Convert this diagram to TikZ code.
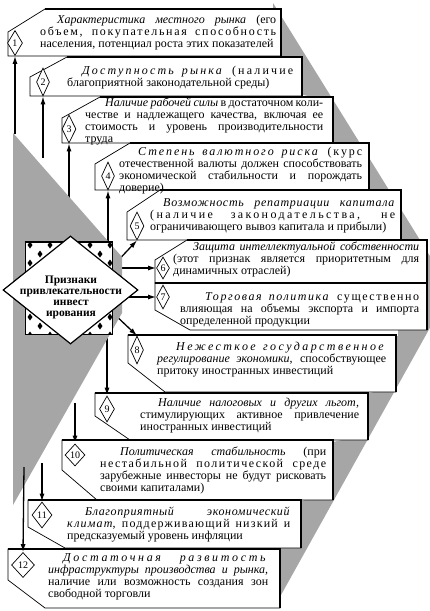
\documentclass[tikz,border=0pt]{standalone}
\usepackage{fontspec}
\setmainfont{Liberation Serif}
\usetikzlibrary{shapes.geometric,arrows.meta}
\pgfdeclarelayer{lines}
\pgfdeclarelayer{shade}
\pgfsetlayers{lines,shade,main}
\definecolor{shadow}{gray}{0.65}
\newcommand{\spread}[2][15]{{\addfontfeature{LetterSpace=#1}#2}}
\tikzset{
  boxline/.style={draw, fill=white, line width=0.7pt},
  heavy/.style={line width=1.6pt},
  num/.style={draw, diamond, fill=white, inner sep=0pt, line width=0.7pt, font=\fontsize{10}{10}\selectfont},
  txt/.style={anchor=base west, inner sep=0pt, align=justify, font=\fontsize{12}{12.3}\selectfont},
  arr/.style={line width=1.3pt, -{Latex[length=8pt,width=5pt]}}
}
\begin{document}
\begin{tikzpicture}[x=1pt,y=-1pt]
  \useasboundingbox (0,0) rectangle (429,611);

  % boxes
  \draw[boxline] (45,9) -- (281,9) -- (281,56) -- (8,56) -- (8,32) -- cycle;
  \draw[heavy] (45,9) -- (281,9) -- (281,56);
  \draw[boxline] (67,57) -- (302,57) -- (302,96) -- (30,96) -- (30,77) -- cycle;
  \draw[heavy] (67,57) -- (302,57) -- (302,96);
  \draw[boxline] (100,97) -- (333,97) -- (333,143) -- (62,143) -- (62,118) -- cycle;
  \draw[heavy] (100,97) -- (333,97) -- (333,143);
  \draw[boxline] (130,143) -- (369,143) -- (369,190) -- (95,190) -- (95,164) -- cycle;
  \draw[heavy] (130,143) -- (369,143) -- (369,190);
  \draw[boxline] (160,190) -- (401,190) -- (401,240) -- (127,240) -- (127,212) -- cycle;
  \draw[heavy] (160,190) -- (401,190) -- (401,240);
  \draw[boxline] (187,240) -- (427,240) -- (427,283) -- (155,283) -- (155,260) -- cycle;
  \draw[heavy] (187,240) -- (427,240) -- (427,283);
  \draw[boxline] (155,283) -- (427,283) -- (427,330) -- (190,330) -- (155,310) -- cycle;
  \draw[heavy] (155,283) -- (427,283) -- (427,330);
  \draw[boxline] (128,335) -- (396,335) -- (396,392) -- (165,392) -- (128,363) -- cycle;
  \draw[heavy] (128,335) -- (396,335) -- (396,392);
  \draw[boxline] (95,393) -- (368,393) -- (368,440) -- (130,440) -- (95,416) -- cycle;
  \draw[heavy] (95,393) -- (368,393) -- (368,440);
  \draw[boxline] (62,440) -- (333,440) -- (333,500) -- (97,500) -- (62,470) -- cycle;
  \draw[heavy] (62,440) -- (333,440) -- (333,500);
  \draw[boxline] (28,500) -- (301,500) -- (301,548) -- (65,548) -- (28,527) -- cycle;
  \draw[heavy] (28,500) -- (301,500) -- (301,548);
  \draw[boxline] (8,549) -- (280,549) -- (280,608) -- (45,608) -- (8,580) -- cycle;
  \draw[heavy] (8,549) -- (280,549) -- (280,608);

  % box texts
  \node[txt, text width=236pt] (t1) at (40,23) {\hspace*{17pt}\textit{Характеристика местного рынка} (его\linebreak \spread[14]{объем, покупательная способность}\linebreak населения, потенциал роста этих показателей};
  \node[txt, text width=226pt] (t2) at (67,74) {\hspace*{15pt}\spread[18]{\textit{Доступность рынка} (наличие}\linebreak благоприятной законодательной среды)};
  \node[txt, text width=238pt] (t3) at (85,106) {\hspace*{20pt}\textit{Наличие рабочей силы} в достаточном коли-\linebreak честве и надлежащего качества, включая ее\linebreak стоимость и уровень производительности\linebreak труда};
  \node[txt, text width=243pt] (t4) at (119,155) {\hspace*{19pt}\spread[16]{\textit{Степень валютного риска} (курс}\linebreak отечественной валюты должен способствовать\linebreak экономической стабильности и порождать\linebreak доверие)};
  \node[txt, text width=245pt] (t5) at (150,206) {\hspace*{13pt}\spread[6]{\textit{Возможность репатриации капитала}}\linebreak \spread[20]{(наличие законодательства, не}\linebreak ограничивающего вывоз капитала и прибыли)};
  \node[txt, text width=246pt] (t6) at (173,250) {\hspace*{20pt}\textit{Защита интеллектуальной собственности}\linebreak (этот признак является приоритетным для\linebreak динамичных отраслей)};
  \node[txt, text width=239pt] (t7) at (180,300) {\hspace*{25pt}\spread[13]{\textit{Торговая политика} существенно}\linebreak влияющая на объемы экспорта и импорта\linebreak определенной продукции};
  \node[txt, text width=229pt] (t8) at (157,350) {\hspace*{19pt}\spread[20]{\textit{Нежесткое государственное}}\linebreak \textit{регулирование экономики}, способствующее\linebreak притоку иностранных инвестиций};
  \node[txt, text width=219pt] (t9) at (140,406) {\hspace*{18pt}\textit{Наличие налоговых и других льгот,}\linebreak стимулирующих активное привлечение\linebreak иностранных инвестиций};
  \node[txt, text width=226pt] (t10) at (100,455) {\hspace*{20pt}\textit{Политическая стабильность} (при\linebreak \spread[12]{нестабильной политической среде}\linebreak зарубежные инвесторы не будут рисковать\linebreak своими капиталами)};
  \node[txt, text width=223pt] (t11) at (67,515) {\hspace*{18pt}\spread[5]{\textit{Благоприятный экономический}}\linebreak \spread[10]{\textit{климат}, поддерживающий низкий и}\linebreak предсказуемый уровень инфляции};
  \node[txt, text width=220pt] (t12) at (48,561) {\hspace*{15pt}\spread[22]{\textit{Достаточная развитость}}\linebreak \textit{инфраструктуры производства и рынка,}\linebreak наличие или возможность создания зон\linebreak свободной торговли};

  % numbers
  \node[num, minimum width=15pt, minimum height=25pt] (d1) at (15,43) {1};
  \node[num, minimum width=13pt, minimum height=28pt] (d2) at (43,82) {2};
  \node[num, minimum width=14pt, minimum height=28pt] (d3) at (69,129) {3};
  \node[num, minimum width=13pt, minimum height=28pt] (d4) at (108,176) {4};
  \node[num, minimum width=14pt, minimum height=28pt] (d5) at (137,226) {5};
  \node[num, minimum width=13pt, minimum height=22pt] (d6) at (163,268) {6};
  \node[num, minimum width=13pt, minimum height=24pt] (d7) at (163,297) {7};
  \node[num, minimum width=13pt, minimum height=28pt] (d8) at (137,350) {8};
  \node[num, minimum width=15pt, minimum height=26pt] (d9) at (107,409) {9};
  \node[num, minimum width=20pt, minimum height=22pt] (d10) at (75,455) {10};
  \node[num, minimum width=20pt, minimum height=26pt] (d11) at (42,515) {11};
  \node[num, minimum width=23pt, minimum height=25pt] (d12) at (23,565) {12};

  % centre
  \fill[white] (25,242) rectangle (112,334);
  \begin{scope}
    \clip (25,242) rectangle (112,334);
    \foreach \r in {0,...,10}
      \foreach \c in {0,...,4}
        \fill ({30+20*\c+10*mod(\r,2)},{245+9*\r}) +(0,-3.5) -- +(2.5,0) -- +(0,3.5) -- +(-2.5,0) -- cycle;
  \end{scope}
  \node[draw, line width=0.7pt, minimum width=87pt, minimum height=92pt, inner sep=0pt] (sq) at (68.5,288) {};
  \draw[heavy] (sq.north west) -- (sq.north east) -- (sq.south east);
  \node[draw, diamond, fill=white, line width=1.2pt, minimum width=135pt, minimum height=108pt, inner sep=0pt] (main) at (70.5,290) {};
  \node[align=center, font=\bfseries\fontsize{11.5}{11}\selectfont] (maintxt) at (71,297) {Признаки\\привлекательности\\инвест\\ирования};

  \begin{pgfonlayer}{shade}
    \fill[shadow] (13,133) -- (122,257) -- (122,313) -- (13,505) -- cycle;
    \fill[shadow] (273,3) -- (451,290) -- (281,595) -- (270,590) -- (270,552) -- (290,545)
      -- (290,505) -- (320,495) -- (320,445) -- (355,437) -- (355,397) -- (385,389)
      -- (385,338) -- (398,336) -- (398,326) -- (410,300) -- (410,245) -- (390,236)
      -- (390,195) -- (360,187) -- (360,147) -- (325,140) -- (325,100) -- (295,93)
      -- (295,60) -- (273,53) -- cycle;
  \end{pgfonlayer}

  % draw edges
  \coordinate (s1) at (15,134);
  \coordinate (s2) at (43,158);
  \coordinate (s3) at (69,200);
  \coordinate (s4) at (108,242);
  \coordinate (s5) at (112,267);
  \coordinate (s6) at (112,268);
  \coordinate (s7) at (112,297);
  \coordinate (s8) at (112,312);
  \coordinate (s9) at (107,330);
  \coordinate (s10) at (75,403);
  \coordinate (s11) at (42,463);
  \coordinate (s12) at (24,467);
  \begin{pgfonlayer}{lines}
    \fill[white] (0,0) rectangle (429,611);
    \draw[arr] (s1) -- (d1.south);
    \draw[arr] (s2) -- (d2.south);
    \draw[arr] (s3) -- (d3.south);
    \draw[arr] (s4) -- (d4.south);
    \draw[arr] (s5) -- (d5.south);
    \draw[arr] (s6) -- (d6.west);
    \draw[arr] (s7) -- (d7.west);
    \draw[arr] (s8) -- (d8.north);
    \draw[arr] (s9) -- (d9.north);
    \draw[arr] (s10) -- (d10.north);
    \draw[arr] (s11) -- (d11.north);
  \end{pgfonlayer}
  \draw[arr] (s12) -- (d12.north);
\end{tikzpicture}
\end{document}
